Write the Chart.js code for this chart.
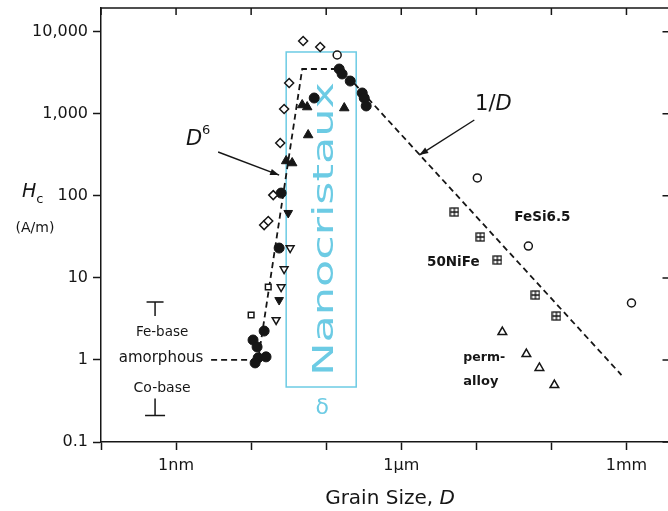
<!DOCTYPE html>
<html>
<head>
<meta charset="utf-8">
<script src="https://cdn.jsdelivr.net/npm/chart.js@4.4.0/dist/chart.umd.min.js"></script>
<style>
  html, body { margin: 0; padding: 0; background: #fff; overflow: hidden; }
  #wrap { width: 668px; height: 511px; overflow: hidden; }
  canvas { display: block; }
</style>
</head>
<body>
<div id="wrap"><canvas id="hc" width="677" height="511" style="width:677px;height:511px"></canvas></div>
<script>
// grain size D in nm, coercivity Hc in A/m
const openDiamondD = [49.3, 83.2, 32.1, 27.5, 24.4, 19.7, 14.9, 16.9];
const openDiamondHc = [7710, 6520, 2370, 1143, 441, 102, 44, 49.3];

const filledCircleD = [149, 163, 209, 302, 321, 341, 69.2, 25.1, 23.6, 14.9, 10.6, 12.0, 12.4, 15.8, 11.3];
const filledCircleHc = [3510, 3055, 2505, 1791, 1556, 1245, 1556, 108, 23.1, 2.25, 1.75, 1.44, 1.06, 1.09, 0.92];

const filledTriD = [47.9, 55.8, 174, 57.5, 29.3, 35.2];
const filledTriHc = [1280, 1208, 1175, 551, 266, 251];

const filledDownD = [31.2, 23.6];
const filledDownHc = [61.8, 5.37];

const openDownD = [33.1, 27.5, 25.1, 21.5];
const openDownHc = [23.1, 12.8, 7.74, 3.07];

const openSquareD = [16.9, 10];
const openSquareHc = [7.74, 3.53];

const openCircleD = [140, 10310, 49340, 1166000];
const openCircleHc = [5200, 165, 24.4, 4.94];

const niFeD = [5090, 11300, 19050, 61200, 116600];
const niFeHc = [63.5, 31.5, 16.5, 6.18, 3.43];

const permalloyD = [22200, 46400, 69200, 109600];
const permalloyHc = [2.19, 1.18, 0.80, 0.495];

// amorphous plateau, D^6 rise, nano plateau, 1/D fall
const trendD = [2.93, 12.4, 47.9, 158, 858000];
const trendHc = [1, 1, 3510, 3510, 0.655];

// nanocrystalline window
const nanoD = [29.3, 251];
const nanoHc = [0.468, 5660];

// spread of amorphous alloys (Co-base .. Fe-base)
const amorphousD = 0.525;
const amorphousHc = [0.21, 5.1];

const xTicks = [0.1, 1, 10, 100, 1e3, 1e4, 1e5, 1e6];
const xTickLabels = ['', '1nm', '', '', '1\u00b5m', '', '', '1mm'];
const yTicks = [0.1, 1, 10, 100, 1000, 10000];
const yTickLabels = ['0.1', '1', '10', '100', '1,000', '10,000'];

const FONT = '"DejaVu Sans", sans-serif';
const INK = '#161616';
const CYAN = '#6ccbe4';

Chart.defaults.font.family = FONT;

const pts = (xs, ys) => xs.map((x, i) => ({ x: x, y: ys[i] }));
const labelFor = (v, vals, labels) => {
    const i = vals.findIndex(t => Math.abs(Math.log10(t) - Math.log10(v)) < 1e-6);
    return i < 0 ? '' : labels[i];
};

function squarePlus() {
    const c = document.createElement('canvas');
    c.width = 10;
    c.height = 10;
    const g = c.getContext('2d');
    g.fillStyle = '#fff';
    g.fillRect(1, 1, 8, 8);
    g.strokeStyle = INK;
    g.lineWidth = 1.3;
    g.strokeRect(1, 1, 8, 8);
    g.beginPath();
    g.moveTo(5, 1); g.lineTo(5, 9);
    g.moveTo(1, 5); g.lineTo(9, 5);
    g.stroke();
    return c;
}

function at(chart, d, h) {
    return [chart.scales.x.getPixelForValue(d), chart.scales.y.getPixelForValue(h)];
}

// draws a row of text pieces with different fonts
function runs(ctx, parts, x, y, align) {
    let w = 0;
    parts.forEach(p => { ctx.font = p.font; p.w = ctx.measureText(p.text).width; w += p.w; });
    let cx = align === 'center' ? x - w / 2 : x;
    ctx.textAlign = 'left';
    parts.forEach(p => {
        ctx.font = p.font;
        ctx.fillText(p.text, cx, y + (p.dy || 0));
        cx += p.w;
    });
}

function arrow(ctx, x1, y1, x2, y2) {
    ctx.beginPath();
    ctx.moveTo(x1, y1);
    ctx.lineTo(x2, y2);
    ctx.stroke();
    const a = Math.atan2(y2 - y1, x2 - x1), L = 9, W = 3.2;
    ctx.beginPath();
    ctx.moveTo(x2, y2);
    ctx.lineTo(x2 - L * Math.cos(a) + W * Math.sin(a), y2 - L * Math.sin(a) - W * Math.cos(a));
    ctx.lineTo(x2 - L * Math.cos(a) - W * Math.sin(a), y2 - L * Math.sin(a) + W * Math.cos(a));
    ctx.closePath();
    ctx.fill();
}

const decorations = {
    id: 'decorations',
    beforeDatasetsDraw(chart) {
        const ctx = chart.ctx;
        const [l, t] = at(chart, nanoD[0], nanoHc[1]);
        const [r, b] = at(chart, nanoD[1], nanoHc[0]);
        ctx.save();
        ctx.strokeStyle = CYAN;
        ctx.lineWidth = 1.5;
        ctx.strokeRect(l, t, r - l, b - t);

        ctx.fillStyle = CYAN;
        const [tx, ty] = at(chart, 124, 39.4);
        ctx.save();
        ctx.translate(tx, ty);
        ctx.rotate(-Math.PI / 2);
        ctx.scale(1.59, 1);
        ctx.font = '28px ' + FONT;
        ctx.textAlign = 'center';
        ctx.textBaseline = 'alphabetic';
        ctx.fillText('Nanocristaux', 0, 0);
        ctx.restore();

        const [dx, dy] = at(chart, 88.5, 0.26);
        ctx.font = '22px ' + FONT;
        ctx.textAlign = 'center';
        ctx.textBaseline = 'middle';
        ctx.fillText('\u03b4', dx, dy);
        ctx.restore();
    },
    afterDraw(chart) {
        const ctx = chart.ctx;
        const { left, right, top, bottom } = chart.chartArea;
        const sx = chart.scales.x, sy = chart.scales.y;
        ctx.save();
        ctx.strokeStyle = INK;
        ctx.fillStyle = INK;
        ctx.lineWidth = 1.5;

        // frame top and right, ticks pointing inward
        ctx.beginPath();
        ctx.moveTo(left, top);
        ctx.lineTo(right, top);
        ctx.lineTo(right, bottom);
        xTicks.forEach(v => {
            const x = sx.getPixelForValue(v);
            ctx.moveTo(x, top);
            ctx.lineTo(x, top + 7);
        });
        yTicks.forEach(v => {
            const y = sy.getPixelForValue(v);
            ctx.moveTo(right, y);
            ctx.lineTo(right - 8, y);
        });
        ctx.stroke();

        // amorphous range bars
        const [mx, yHi] = at(chart, amorphousD, amorphousHc[1]);
        const yLo = sy.getPixelForValue(amorphousHc[0]);
        ctx.beginPath();
        ctx.moveTo(mx - 8.5, yHi); ctx.lineTo(mx + 8.5, yHi);
        ctx.moveTo(mx, yHi); ctx.lineTo(mx, yHi + 14);
        ctx.moveTo(mx - 10, yLo); ctx.lineTo(mx + 10, yLo);
        ctx.moveTo(mx, yLo); ctx.lineTo(mx, yLo - 17);
        ctx.stroke();

        // arrows to the fitted laws
        ctx.lineWidth = 1.4;
        let p = at(chart, 3.63, 342), q = at(chart, 23.6, 179);
        arrow(ctx, p[0], p[1], q[0], q[1]);
        p = at(chart, 9400, 840); q = at(chart, 1738, 314);
        arrow(ctx, p[0], p[1], q[0], q[1]);

        ctx.textBaseline = 'middle';
        const reg = s => s + 'px ' + FONT;
        const ital = s => 'italic ' + s + 'px ' + FONT;
        const bold = s => 'bold ' + s + 'px ' + FONT;

        p = at(chart, 1.74, 479);
        runs(ctx, [{ text: 'D', font: ital(21) }, { text: '6', font: reg(13), dy: -9 }], p[0] + 4, p[1], 'center');
        p = at(chart, 16860, 1280);
        runs(ctx, [{ text: '1/', font: reg(21) }, { text: 'D', font: ital(21) }], p[0], p[1], 'center');

        p = at(chart, 75900, 53.7);
        runs(ctx, [{ text: 'FeSi6.5', font: bold(13.5) }], p[0], p[1], 'center');
        p = at(chart, 4935, 15.6);
        runs(ctx, [{ text: '50NiFe', font: bold(13.5) }], p[0], p[1], 'center');
        p = at(chart, 6707, 1.056);
        runs(ctx, [{ text: 'perm-', font: bold(12.5) }], p[0], p[1], 'left');
        p = at(chart, 6707, 0.538);
        runs(ctx, [{ text: 'alloy', font: bold(13) }], p[0], p[1], 'left');

        p = at(chart, 0.651, 2.13);
        runs(ctx, [{ text: 'Fe-base', font: reg(13.5) }], p[0], p[1], 'center');
        p = at(chart, 0.631, 1.056);
        runs(ctx, [{ text: 'amorphous', font: reg(15) }], p[0], p[1], 'center');
        p = at(chart, 0.651, 0.455);
        runs(ctx, [{ text: 'Co-base', font: reg(14) }], p[0], p[1], 'center');

        // axis titles
        ctx.textBaseline = 'alphabetic';
        const y100 = sy.getPixelForValue(100);
        runs(ctx, [{ text: 'H', font: ital(19) }, { text: 'c', font: reg(13), dy: 6 }], 22, y100 + 1, 'left');
        ctx.textBaseline = 'middle';
        runs(ctx, [{ text: '(A/m)', font: reg(14) }], 35, y100 + 33, 'center');
        ctx.textBaseline = 'alphabetic';
        runs(ctx, [{ text: 'Grain Size, ', font: reg(20) }, { text: 'D', font: ital(20) }], 390, bottom + 62, 'center');
        ctx.restore();
    }
};

const openStyle = { backgroundColor: '#fff', borderColor: INK, borderWidth: 1.5 };
const filledStyle = { backgroundColor: INK, borderColor: INK, borderWidth: 1 };

new Chart(document.getElementById('hc'), {
    type: 'scatter',
    data: {
        datasets: [
            Object.assign({ data: pts(openDiamondD, openDiamondHc), pointStyle: 'rectRot', pointRadius: 4.5 }, openStyle),
            Object.assign({ data: pts(openCircleD, openCircleHc), pointStyle: 'circle', pointRadius: 4 }, openStyle),
            Object.assign({ data: pts(filledCircleD, filledCircleHc), pointStyle: 'circle', pointRadius: 5 }, filledStyle),
            Object.assign({ data: pts(filledTriD, filledTriHc), pointStyle: 'triangle', pointRadius: 5.5 }, filledStyle),
            Object.assign({ data: pts(filledDownD, filledDownHc), pointStyle: 'triangle', rotation: 180, pointRadius: 5 }, filledStyle),
            Object.assign({ data: pts(openDownD, openDownHc), pointStyle: 'triangle', rotation: 180, pointRadius: 4.5 }, openStyle),
            Object.assign({ data: pts(openSquareD, openSquareHc), pointStyle: 'rect', pointRadius: 4 }, openStyle),
            { data: pts(niFeD, niFeHc), pointStyle: squarePlus(), pointRadius: 5 },
            Object.assign({ data: pts(permalloyD, permalloyHc), pointStyle: 'triangle', pointRadius: 5 }, openStyle),
            {
                data: pts(trendD, trendHc),
                showLine: true,
                borderColor: INK,
                borderWidth: 1.8,
                borderDash: [6, 4],
                pointRadius: 0,
                order: 10
            }
        ]
    },
    options: {
        responsive: false,
        animation: false,
        layout: { padding: { top: 8, right: 3, left: 0, bottom: 0 } },
        plugins: { legend: { display: false }, tooltip: { enabled: false } },
        scales: {
            x: {
                type: 'logarithmic',
                position: 'bottom',
                min: 0.1,
                max: 3.86e6,
                afterBuildTicks: s => { s.ticks = xTicks.map(v => ({ value: v })); },
                afterFit: s => { s.height = 69; s.paddingLeft = 0; s.paddingRight = 0; },
                ticks: {
                    autoSkip: false,
                    maxRotation: 0,
                    padding: 6,
                    color: INK,
                    font: { size: 16 },
                    callback: v => labelFor(v, xTicks, xTickLabels)
                },
                grid: { drawOnChartArea: false, tickLength: 8, tickWidth: 1.5, tickColor: INK },
                border: { color: INK, width: 1.5 }
            },
            y: {
                type: 'logarithmic',
                min: 0.1,
                max: 19450,
                afterBuildTicks: s => { s.ticks = yTicks.map(v => ({ value: v })); },
                afterFit: s => { s.width = 101; s.paddingTop = 0; s.paddingBottom = 0; },
                ticks: {
                    autoSkip: false,
                    padding: 5,
                    color: INK,
                    font: { size: 16 },
                    callback: v => labelFor(v, yTicks, yTickLabels)
                },
                grid: { drawOnChartArea: false, tickLength: 8, tickWidth: 1.5, tickColor: INK },
                border: { color: INK, width: 1.5 }
            }
        }
    },
    plugins: [decorations]
});
</script>
</body>
</html>
